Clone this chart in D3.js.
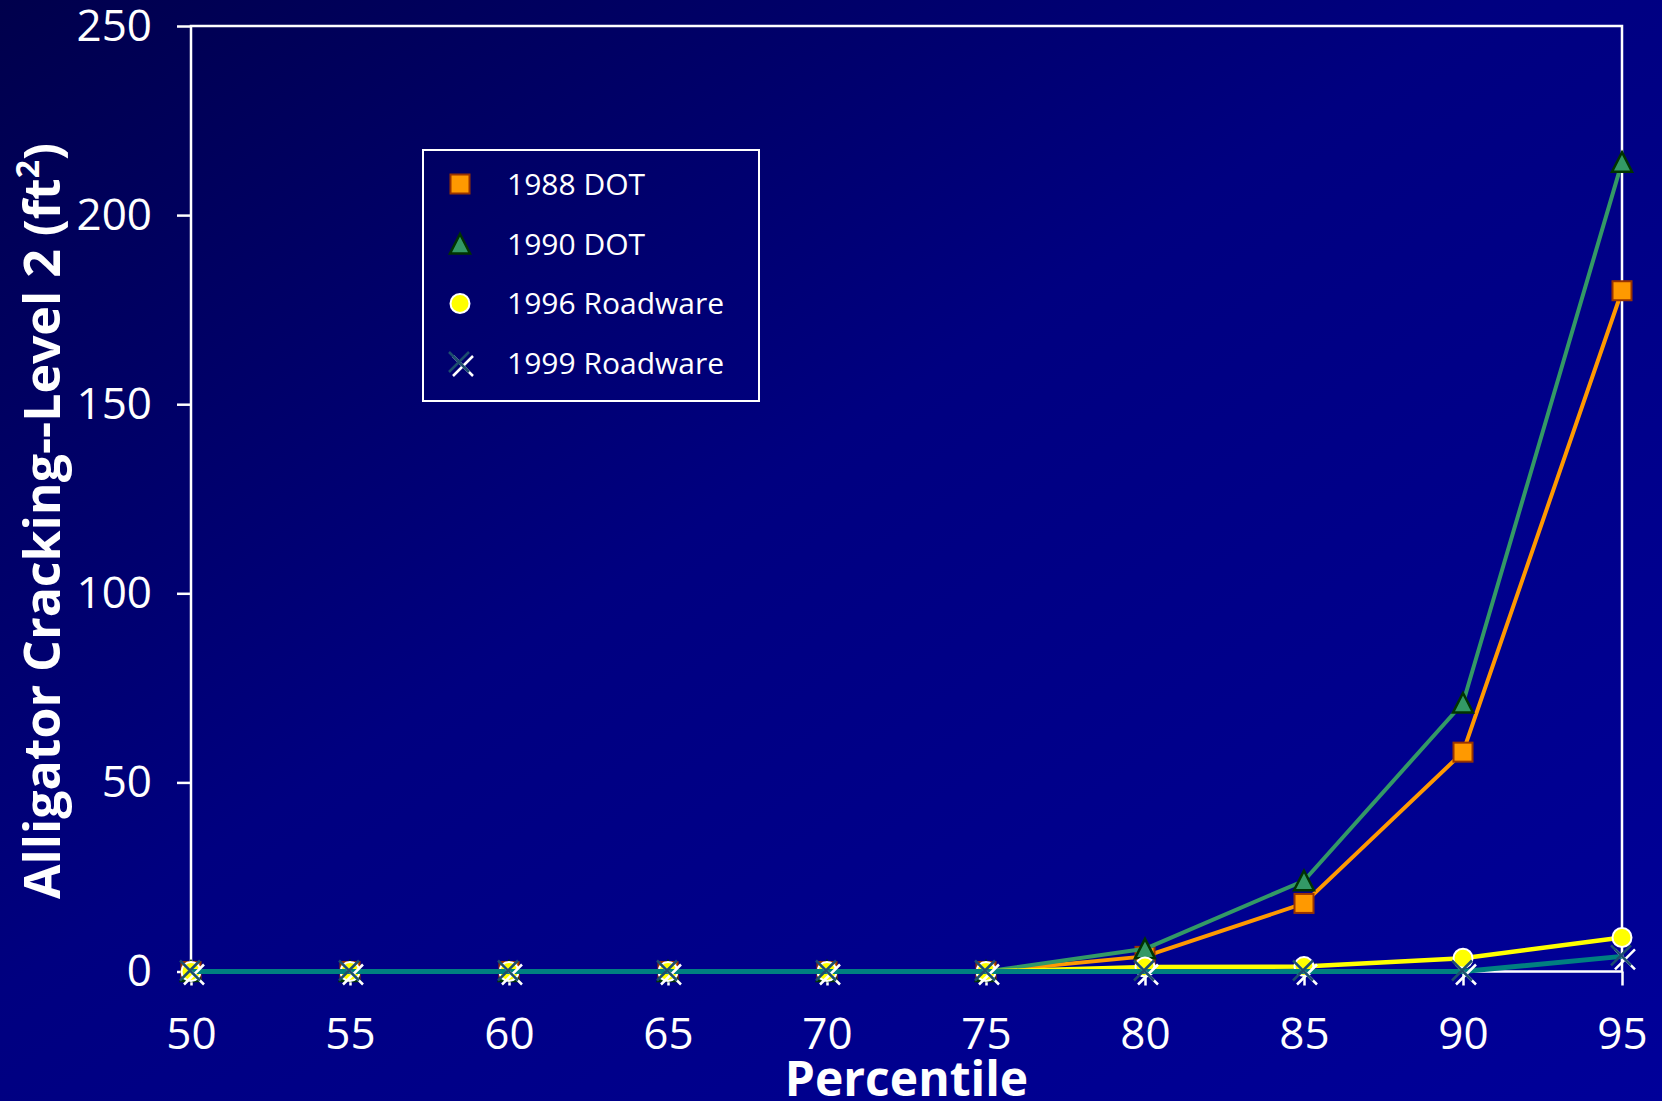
<!DOCTYPE html>
<html>
<head>
<meta charset="utf-8">
<script src="https://cdn.jsdelivr.net/npm/d3@7"></script>
<style>
  html, body { margin: 0; padding: 0; background: #000060; }
  svg { display: block; }
</style>
</head>
<body>
<svg id="chart" width="1662" height="1101"></svg>
<script>
// Percentile categories along the x axis
const percentiles = [50, 55, 60, 65, 70, 75, 80, 85, 90, 95];

// Alligator cracking, level 2 (ft²), per survey
const dot1988       = [0, 0, 0, 0, 0, 0, 4, 18, 58, 180];
const dot1990       = [0, 0, 0, 0, 0, 0, 6, 24, 71, 214];
const roadware1996  = [0, 0, 0, 0, 0, 0, 1.2, 1.3, 3.5, 9];
const roadware1999  = [0, 0, 0, 0, 0, 0, 0, 0, 0, 4];

const seriesNames = ["1988 DOT", "1990 DOT", "1996 Roadware", "1999 Roadware"];
const yTicks = [0, 50, 100, 150, 200, 250];

const yTitle = "Alligator Cracking--Level 2 (ft";
const xTitle = "Percentile";

const W = 1662, H = 1101;
const plot = { left: 191, right: 1622, top: 26, bottom: 971.5 };

const svg = d3.select("#chart");

// Diagonal background gradient, dark navy to bright blue
const defs = svg.append("defs");
const grad = defs.append("linearGradient")
  .attr("id", "bg").attr("x1", 0).attr("y1", 0).attr("x2", 1).attr("y2", 1);
grad.append("stop").attr("offset", "0%").attr("stop-color", "#00004c");
grad.append("stop").attr("offset", "45%").attr("stop-color", "#000080");
grad.append("stop").attr("offset", "100%").attr("stop-color", "#000099");
svg.append("rect").attr("width", W).attr("height", H).attr("fill", "url(#bg)");

const x = d3.scaleLinear().domain([50, 95]).range([plot.left, plot.right]);
const y = d3.scaleLinear().domain([0, 250]).range([plot.bottom, plot.top]);

const FONT = "'Open Sans', 'DejaVu Sans', sans-serif";

// Plot frame
svg.append("rect")
  .attr("x", plot.left).attr("y", plot.top)
  .attr("width", plot.right - plot.left).attr("height", plot.bottom - plot.top)
  .attr("fill", "none").attr("stroke", "#ffffff").attr("stroke-width", 2.5);

// Y axis
const yAxis = svg.append("g")
  .attr("transform", `translate(${plot.left},0)`)
  .call(d3.axisLeft(y).tickValues(yTicks).tickSize(14).tickSizeOuter(0).tickPadding(25));
yAxis.select(".domain").remove();
yAxis.selectAll(".tick line").attr("stroke", "#ffffff").attr("stroke-width", 2.5);
yAxis.selectAll(".tick text")
  .attr("fill", "#ffffff").attr("font-family", FONT).attr("font-size", 44);

// X axis
const xAxis = svg.append("g")
  .attr("transform", `translate(0,${plot.bottom})`)
  .call(d3.axisBottom(x).tickValues(percentiles).tickSize(14).tickSizeOuter(0).tickPadding(32));
xAxis.select(".domain").remove();
xAxis.selectAll(".tick line").attr("stroke", "#ffffff").attr("stroke-width", 2.5);
xAxis.selectAll(".tick text")
  .attr("fill", "#ffffff").attr("font-family", FONT).attr("font-size", 44);

// Axis titles
svg.append("text")
  .attr("transform", "translate(60,521) rotate(-90)")
  .attr("text-anchor", "middle")
  .attr("fill", "#ffffff").attr("font-family", FONT).attr("font-weight", 700).attr("font-size", 50)
  .call(t => {
    t.append("tspan").text(yTitle);
    t.append("tspan").attr("baseline-shift", "super").attr("font-size", 32).text("2");
    t.append("tspan").text(")");
  });

svg.append("text")
  .attr("x", (plot.left + plot.right) / 2).attr("y", 1096)
  .attr("text-anchor", "middle")
  .attr("fill", "#ffffff").attr("font-family", FONT).attr("font-weight", 700).attr("font-size", 48)
  .text(xTitle);

// Marker painters
function drawSquare(g, cx, cy) {
  g.append("rect").attr("x", cx - 9.5).attr("y", cy - 9.5).attr("width", 19).attr("height", 19)
    .attr("fill", "#ff9900").attr("stroke", "#993300").attr("stroke-width", 2);
}
function drawTriangle(g, cx, cy) {
  g.append("path")
    .attr("d", `M${cx},${cy - 10} L${cx + 10},${cy + 9.5} L${cx - 10},${cy + 9.5} Z`)
    .attr("fill", "#339966").attr("stroke", "#003300").attr("stroke-width", 2.5)
    .attr("stroke-linejoin", "miter");
}
function drawCircle(g, cx, cy) {
  g.append("circle").attr("cx", cx).attr("cy", cy).attr("r", 9.5)
    .attr("fill", "#ffff00").attr("stroke", "#ffffff").attr("stroke-width", 2);
}
function drawCross(g, cx, cy) {
  const s = 10;
  const cross = (dx, dy, color) => {
    g.append("path")
      .attr("d", `M${cx + dx - s},${cy + dy - s} L${cx + dx + s},${cy + dy + s} M${cx + dx - s},${cy + dy + s} L${cx + dx + s},${cy + dy - s}`)
      .attr("stroke", color).attr("stroke-width", 2.5).attr("fill", "none");
  };
  cross(3, 3, "#ffffff");
  cross(-1, -1, "#1d4e6e");
}

const series = [
  { name: seriesNames[0], values: dot1988,      color: "#ff9900", width: 4,   marker: drawSquare },
  { name: seriesNames[1], values: dot1990,      color: "#339966", width: 4,   marker: drawTriangle },
  { name: seriesNames[2], values: roadware1996, color: "#ffff00", width: 4.5, marker: drawCircle },
  { name: seriesNames[3], values: roadware1999, color: "#008080", width: 5,   marker: drawCross }
];

const line = d3.line().x(d => x(d[0])).y(d => y(d[1]));

series.forEach(s => {
  const pts = percentiles.map((p, i) => [p, s.values[i]]);
  const g = svg.append("g");
  g.append("path").datum(pts).attr("d", line)
    .attr("fill", "none").attr("stroke", s.color).attr("stroke-width", s.width)
    .attr("stroke-linejoin", "round");
  pts.forEach(d => s.marker(g, x(d[0]), y(d[1])));
});

// Legend
const legend = svg.append("g");
legend.append("rect").attr("x", 423).attr("y", 150).attr("width", 336).attr("height", 251)
  .attr("fill", "none").attr("stroke", "#ffffff").attr("stroke-width", 2);
const rowY = [184, 244, 303.5, 363];
series.forEach((s, i) => {
  s.marker(legend, 460, rowY[i]);
  legend.append("text").attr("x", 507).attr("y", rowY[i] + 10.7)
    .attr("fill", "#ffffff").attr("font-family", FONT).attr("font-size", 30)
    .text(s.name);
});
</script>
</body>
</html>
